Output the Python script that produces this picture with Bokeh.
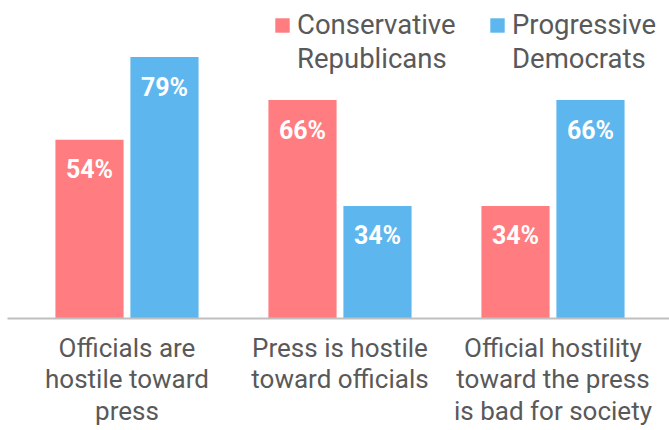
from bokeh.plotting import figure
from bokeh.models import ColumnDataSource, Range1d, FixedTicker, Legend, LegendItem
from bokeh.transform import dodge
from bokeh.core.properties import value
from bokeh.embed import file_html
from bokeh.resources import INLINE

categories = ["Officials are\nhostile toward\npress",
              "Press is hostile\ntoward officials",
              "Official hostility\ntoward the press\nis bad for society"]
conservative = [54, 66, 34]
progressive = [79, 34, 66]
series_line1 = ["Conservative", "Progressive"]
series_line2 = ["Republicans", "Democrats"]

RED = "#FF7C80"
BLUE = "#5DB6EE"
FONT = "Roboto"

idx = list(range(len(categories)))
src = ColumnDataSource(dict(
    x=idx,
    cons=conservative,
    prog=progressive,
    cons_lbl=[f"{v}%" for v in conservative],
    prog_lbl=[f"{v}%" for v in progressive],
))

p = figure(width=669, height=430, output_backend="svg", toolbar_location=None,
           x_range=Range1d(-0.561, 2.547), y_range=Range1d(0, 96.1),
           min_border_left=7, min_border_right=0, min_border_top=0, min_border_bottom=112)
p.outline_line_color = None
p.background_fill_color = "white"
p.border_fill_color = "white"
p.grid.visible = False
p.yaxis.visible = False

bw = 0.32
off = 0.176
r1 = p.vbar(x=dodge("x", -off, range=p.x_range), top="cons", width=bw, bottom=0,
            source=src, fill_color=RED, line_color=None)
r2 = p.vbar(x=dodge("x", off, range=p.x_range), top="prog", width=bw, bottom=0,
            source=src, fill_color=BLUE, line_color=None)

for col, lbl, o in (("cons", "cons_lbl", -off), ("prog", "prog_lbl", off)):
    p.text(x=dodge("x", o, range=p.x_range), y=col, text=lbl, source=src,
           text_align="center", text_baseline="middle", y_offset=30,
           text_color="white", text_font=value("Roboto"), text_font_style="bold",
           text_font_size="25px")

ax = p.xaxis[0]
ax.ticker = FixedTicker(ticks=idx)
ax.major_label_overrides = {i: c for i, c in zip(idx, categories)}
ax.major_label_text_font = FONT
ax.major_label_text_font_size = "26px"
ax.major_label_text_color = "#595959"
ax.major_label_text_line_height = 1.06
ax.major_label_standoff = 8
ax.axis_line_color = "#BFBFBF"
ax.axis_line_width = 2
ax.major_tick_line_color = None
ax.minor_tick_line_color = None

common = dict(orientation="horizontal", label_text_font=FONT,
              label_text_font_size="27.5px", label_text_color="#595959",
              label_text_line_height=1.0, glyph_height=18, label_width=160,
              spacing=31, background_fill_alpha=0, border_line_color=None,
              margin=0, padding=0)

legend_top = Legend(items=[LegendItem(label=series_line1[0], renderers=[r1]),
                           LegendItem(label=series_line1[1], renderers=[r2])],
                    location=(266, 277), glyph_width=18, label_standoff=6, **common)
legend_bottom = Legend(items=[LegendItem(label=series_line2[0], renderers=[r1]),
                              LegendItem(label=series_line2[1], renderers=[r2])],
                       location=(266, 243), glyph_width=0, label_standoff=24, **common)
p.add_layout(legend_top)
p.add_layout(legend_bottom)

open("out.html", "w").write(file_html(p, INLINE))
